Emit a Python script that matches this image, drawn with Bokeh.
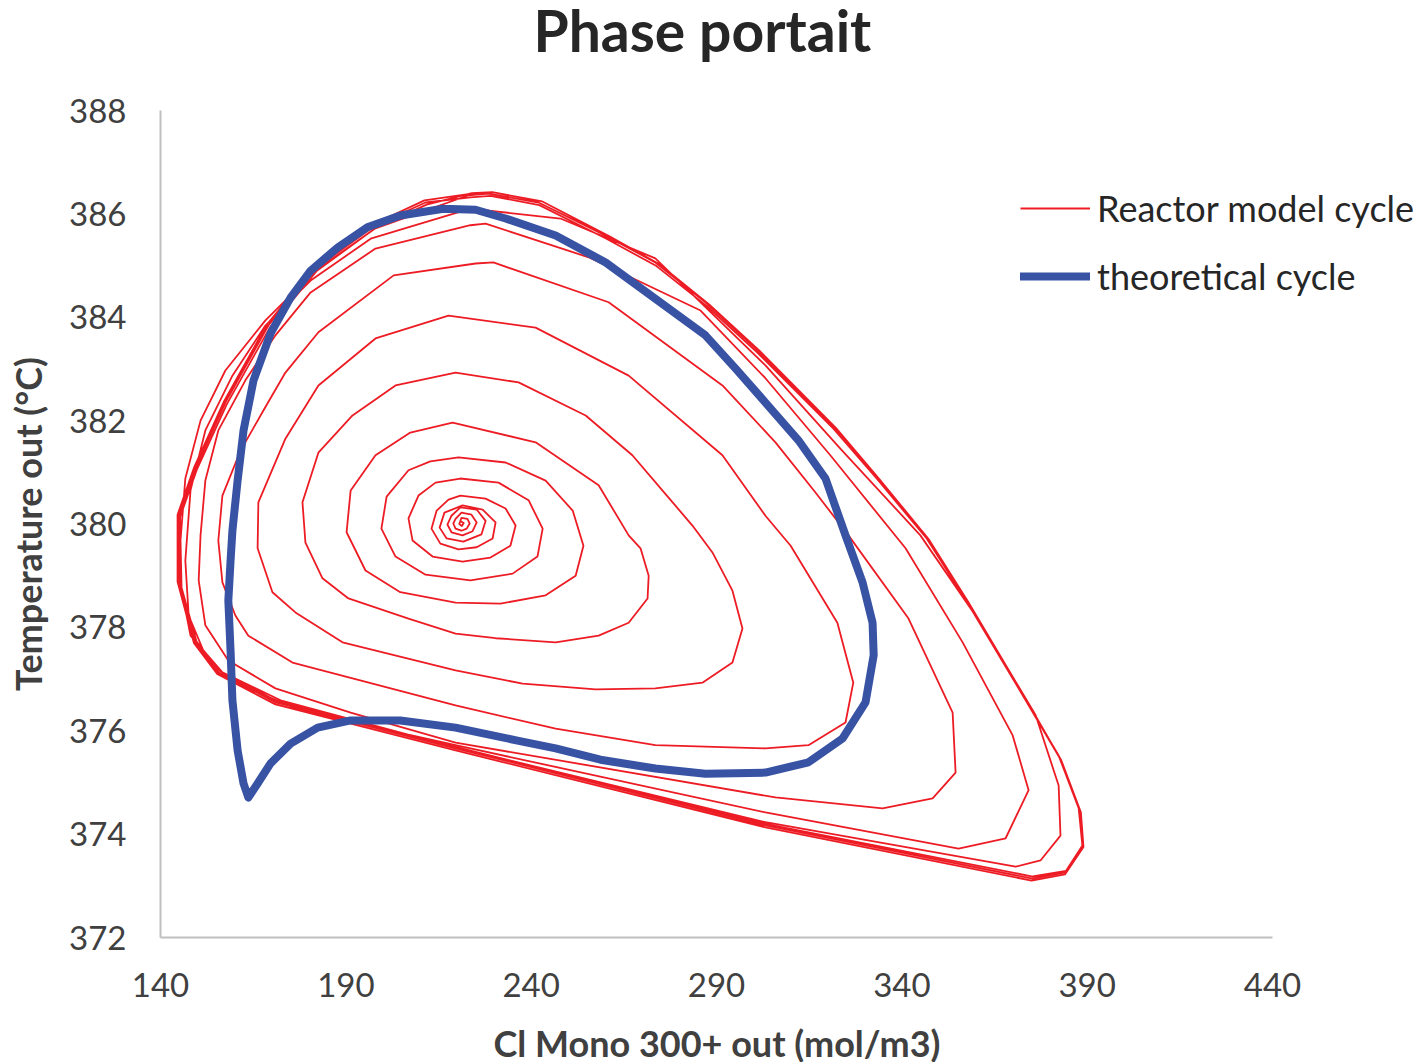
from bokeh.plotting import figure
from bokeh.models import Range1d, FixedTicker, Legend, LegendItem, Label
from bokeh.layouts import column
from bokeh.embed import file_html
from bokeh.resources import INLINE

# ---------------- data ----------------
title_text = "Phase portait"
x_title = "Cl Mono 300+ out (mol/m3)"
y_title = "Temperature out (°C)"
series_names = ["Reactor model cycle", "theoretical cycle"]
x_ticks = [140, 190, 240, 290, 340, 390, 440]
y_ticks = [372, 374, 376, 378, 380, 382, 384, 386, 388]

# Reactor model cycle: spiral from the fixed point outwards, one revolution per list
rev_00 = [(221.0, 380.05), (221.8, 380.02), (221.3, 379.96), (220.6, 380.00),
          (221.2, 380.12), (222.8, 380.10), (223.4, 380.01), (222.6, 379.91), (221.2, 379.87),
          (219.6, 379.91), (219.0, 380.01), (219.6, 380.10),
          (221.2, 380.22), (223.9, 380.18), (225.3, 380.03), (224.2, 379.86), (221.5, 379.78),
          (218.5, 379.84), (217.4, 379.99), (218.5, 380.16),
          (220.9, 380.32), (225.3, 380.28), (227.7, 380.06), (226.6, 379.80), (221.7, 379.66),
          (217.2, 379.72), (215.3, 379.93), (216.6, 380.22)]
rev_01 = [(221.5, 380.36), (226.9, 380.28), (230.4, 380.03), (229.6, 379.72), (225.3, 379.55),
          (220.4, 379.51), (215.5, 379.62), (213.1, 379.91), (214.5, 380.26), (217.7, 380.47)]
rev_02 = [(220.9, 380.55), (227.7, 380.49), (233.1, 380.30), (235.8, 379.97), (234.4, 379.58),
          (229.0, 379.35), (221.5, 379.27), (213.4, 379.37), (208.0, 379.68), (206.9, 380.11),
          (209.6, 380.55), (214.2, 380.80)]
rev_03 = [(220.9, 380.88), (231.2, 380.80), (239.3, 380.46), (243.1, 379.91), (241.7, 379.37),
          (235.0, 379.04), (223.6, 378.91), (211.5, 379.02), (203.4, 379.37), (199.6, 379.91),
          (201.0, 380.53), (206.9, 381.04), (212.8, 381.21)]
rev_04 = [(220.4, 381.29), (233.1, 381.19), (243.9, 380.84), (251.2, 380.26), (254.1, 379.58),
          (252.0, 379.00), (243.9, 378.62), (231.7, 378.46), (219.6, 378.48), (204.7, 378.68),
          (195.3, 379.10), (190.2, 379.84), (191.3, 380.65), (198.0, 381.33), (207.4, 381.77)]
rev_05 = [(218.8, 381.96), (241.2, 381.58), (258.2, 380.75), (266.3, 379.78), (269.5, 379.53),
          (271.7, 379.00), (271.4, 378.56), (266.3, 378.09), (258.2, 377.84), (246.6, 377.71),
          (230.4, 377.79), (219.6, 377.88), (206.9, 378.17), (190.7, 378.56), (183.7, 378.95),
          (179.1, 379.64), (178.3, 380.42), (182.6, 381.38), (191.8, 382.10), (203.4, 382.68)]
rev_06 = [(219.6, 382.93), (236.6, 382.74), (254.7, 382.10), (267.3, 381.33), (276.6, 380.55),
          (283.5, 379.97), (288.9, 379.45), (294.3, 378.71), (297.0, 377.98), (294.3, 377.32),
          (286.2, 376.93), (273.5, 376.82), (257.4, 376.80), (237.7, 376.91), (219.6, 377.17),
          (189.1, 377.71), (176.4, 378.29), (170.2, 378.68), (166.2, 379.53), (166.4, 380.42),
          (173.7, 381.65), (182.6, 382.68), (198.0, 383.59)]
rev_07 = [(217.7, 384.03), (241.2, 383.80), (266.3, 382.87), (291.6, 381.33), (303.2, 380.16),
          (310.0, 379.58), (322.6, 378.09), (326.9, 376.93), (324.8, 376.16), (314.8, 375.72),
          (303.2, 375.66), (273.5, 375.72), (246.6, 376.04), (219.6, 376.49), (175.6, 377.32),
          (163.7, 377.84), (160.2, 378.23), (156.7, 378.87), (155.6, 379.68), (156.7, 380.55),
          (161.6, 381.42), (167.8, 382.20), (173.7, 382.93), (182.6, 383.71), (202.9, 384.81)]
rev_08 = [(225.0, 385.04), (229.8, 385.06), (260.9, 384.29), (291.6, 382.68), (305.9, 381.58),
          (316.7, 380.61), (325.6, 379.78), (341.8, 378.17), (353.7, 376.35), (354.5, 375.19),
          (348.3, 374.69), (334.8, 374.50), (305.9, 374.71), (219.6, 375.77), (191.3, 376.35),
          (171.0, 376.82), (158.3, 377.36), (152.1, 378.04), (150.3, 378.91), (150.8, 379.78),
          (152.1, 380.84), (155.6, 381.81), (162.9, 382.78), (171.0, 383.65), (180.5, 384.48),
          (198.0, 385.33)]
rev_09 = [(223.6, 385.78), (227.7, 385.81), (255.5, 385.16), (285.7, 384.13), (303.2, 382.82),
          (320.7, 381.33), (341.0, 379.53), (356.4, 377.71), (369.9, 375.91), (374.2, 374.85),
          (368.0, 373.92), (355.3, 373.72), (303.2, 374.42), (219.6, 375.72), (177.8, 376.39),
          (158.9, 376.97), (152.1, 377.46), (147.6, 378.23), (146.7, 379.29), (148.1, 380.65),
          (152.1, 381.81), (159.4, 382.87), (168.3, 383.84), (180.5, 384.71), (196.7, 385.52)]
rev_10 = [(223.6, 386.10), (247.9, 385.91), (273.5, 385.14), (303.2, 383.07), (323.4, 381.46),
          (345.0, 379.78), (361.2, 378.09), (376.1, 376.30), (382.3, 374.94), (382.8, 373.97),
          (377.4, 373.49), (370.7, 373.37), (303.2, 374.23), (219.6, 375.68), (172.4, 376.59),
          (156.7, 377.13), (148.1, 377.84), (145.7, 378.71), (145.4, 379.68), (146.7, 380.88),
          (150.8, 382.00), (157.5, 382.97), (168.3, 383.94), (181.8, 384.90), (198.0, 385.72)]
rev_11 = [(223.1, 386.36), (228.5, 386.39), (242.0, 386.22), (260.1, 385.58), (273.5, 385.06),
          (287.0, 384.29), (300.5, 383.40), (321.3, 381.91), (332.9, 380.94), (346.4, 379.78),
          (357.2, 378.56), (370.7, 376.93), (382.3, 375.52), (387.7, 374.50), (388.7, 373.78),
          (384.1, 373.26), (375.2, 373.14), (303.2, 374.17), (219.6, 375.66), (171.0, 376.55),
          (155.6, 377.13), (149.4, 377.71), (144.9, 378.87), (144.9, 380.16), (149.4, 381.07),
          (157.5, 382.35), (169.1, 383.84), (181.8, 384.94), (198.0, 385.78), (211.5, 386.22)]
rev_12 = [(223.6, 386.32), (229.0, 386.35), (242.2, 386.17), (260.3, 385.52), (273.8, 384.99),
          (287.3, 384.22), (300.8, 383.33), (321.6, 381.84), (333.2, 380.88), (346.7, 379.72),
          (357.5, 378.50), (371.0, 376.88), (382.6, 375.47), (388.0, 374.47), (388.9, 373.80),
          (384.3, 373.29), (375.3, 373.18), (303.2, 374.20), (219.6, 375.69), (171.2, 376.58),
          (155.9, 377.16), (149.7, 377.73), (145.3, 378.87), (145.3, 380.14), (149.8, 381.05),
          (157.9, 382.32), (169.5, 383.80), (182.2, 384.90), (198.3, 385.74), (211.8, 386.18)]
rev_13 = [(224.0, 386.40), (229.5, 386.42), (243.0, 386.24), (261.0, 385.57), (274.5, 385.03),
          (288.0, 384.25), (301.5, 383.36), (322.2, 381.86), (333.8, 380.88), (347.2, 379.71),
          (358.0, 378.48), (371.5, 376.85), (383.0, 375.43), (388.3, 374.42), (389.0, 373.75),
          (384.0, 373.22), (375.0, 373.10), (303.2, 374.13), (219.6, 375.62), (171.0, 376.51),
          (155.3, 377.10), (149.0, 377.70), (144.6, 378.88), (144.6, 380.18), (149.1, 381.10),
          (157.2, 382.38), (168.8, 383.87), (181.5, 384.97), (197.7, 385.81), (211.2, 386.26),
          (223.0, 386.38)]

# theoretical cycle (closed)
theory_x = [216.3, 225.0, 233.1, 246.6, 260.1, 273.5, 287.0, 295.1, 303.2, 312.1, 319.4,
            324.8, 329.4, 332.1, 332.4, 330.2, 324.0, 314.8, 303.2, 287.0, 273.5, 258.7,
            246.6, 236.3, 219.6, 204.7, 191.3, 182.4, 175.1, 169.7, 166.2, 163.7, 162.4,
            160.8, 159.4, 158.9, 158.3, 158.9, 159.4, 160.8, 162.4, 165.1, 169.7, 175.1,
            180.5, 187.8, 195.8, 204.7, 216.3]
theory_y = [386.10, 386.08, 385.91, 385.58, 385.06, 384.36, 383.65, 383.01, 382.35, 381.62,
            380.88, 379.78, 378.87, 378.09, 377.46, 376.55, 375.85, 375.39, 375.19, 375.17,
            375.27, 375.44, 375.66, 375.81, 376.06, 376.20, 376.20, 376.06, 375.75, 375.37,
            374.98, 374.71, 374.98, 375.62, 376.59, 377.55, 378.52, 379.29, 379.87, 380.84,
            381.81, 382.78, 383.69, 384.38, 384.90, 385.35, 385.74, 385.97, 386.10]

revolutions = [rev_00, rev_01, rev_02, rev_03, rev_04, rev_05, rev_06, rev_07,
               rev_08, rev_09, rev_10, rev_11, rev_12, rev_13]
model_x = [pt[0] for rev in revolutions for pt in rev]
model_y = [pt[1] for rev in revolutions for pt in rev]

# ---------------- styling ----------------
FONT = "Lato"
RED = "#ED1C24"
BLUE = "#3953A4"
TXT = "#404040"
W = 1420
LEFT = 160   # width of the left border (y axis area), shared by all rows


def text_strip(height, text, left, anchor_from_top, size, color):
    """A thin blank figure (no title, no axes) that only carries one line of text.
    Its frame spans page-x LEFT..W and the strip's full height, so the label is
    placed in page pixels."""
    f = figure(width=W, height=height, title=None, output_backend="svg",
               toolbar_location=None,
               x_range=Range1d(LEFT, W), y_range=Range1d(height, 0),
               min_border_left=LEFT, min_border_right=0, min_border_top=0,
               min_border_bottom=0, x_axis_location=None, y_axis_location=None,
               background_fill_color="white", border_fill_color="white")
    f.outline_line_color = None
    f.grid.visible = False
    f.add_layout(Label(x=left, y=anchor_from_top, text=text, text_font=FONT,
                       text_font_size=size, text_font_style="bold", text_color=color,
                       text_baseline="alphabetic", text_align="left"))
    return f


top = text_strip(90, title_text, 533, 29, "57px", "#262626")
bottom = text_strip(40, x_title, 493, 20, "36px", TXT)

# main chart: frame runs on to the right page edge (room for the legend); x axis stops at 440
p = figure(width=W, height=932, title=None, output_backend="svg", toolbar_location=None,
           x_range=Range1d(140, 479.92), y_range=Range1d(372, 388),
           min_border_left=LEFT, min_border_right=0, min_border_top=20,
           min_border_bottom=85, background_fill_color="white",
           border_fill_color="white")
p.outline_line_color = None
p.grid.visible = False

r_model = p.line(model_x, model_y, line_color=RED, line_width=1.8, line_join="round")
r_theory = p.line(theory_x, theory_y, line_color=BLUE, line_width=8, line_join="round",
                  line_cap="round")

for ax in (p.xaxis[0], p.yaxis[0]):
    ax.axis_line_color = "#BFBFBF"
    ax.axis_line_width = 2
    ax.major_tick_out = 0
    ax.major_tick_in = 0
    ax.minor_tick_out = 0
    ax.minor_tick_in = 0
    ax.major_label_text_font = FONT
    ax.major_label_text_font_size = "33px"
    ax.major_label_text_color = TXT
    ax.axis_label_text_font = FONT
    ax.axis_label_text_font_size = "36px"
    ax.axis_label_text_font_style = "bold"
    ax.axis_label_text_color = TXT

p.xaxis.ticker = FixedTicker(ticks=x_ticks)
p.xaxis.bounds = (140, 440)
p.xaxis.major_label_standoff = 35

p.yaxis.ticker = FixedTicker(ticks=y_ticks)
p.yaxis.axis_label = y_title
p.yaxis.major_label_standoff = 34
p.yaxis.axis_label_standoff = 16

legend = Legend(items=[LegendItem(label=series_names[0], renderers=[r_model]),
                       LegendItem(label=series_names[1], renderers=[r_theory])],
                location=(860, 639))
legend.border_line_color = None
legend.background_fill_alpha = 0
legend.padding = 0
legend.margin = 0
legend.spacing = 24
legend.glyph_width = 70
legend.glyph_height = 40
legend.label_height = 40
legend.label_standoff = 7
legend.label_text_font = FONT
legend.label_text_font_size = "36px"
legend.label_text_color = "#262626"
p.add_layout(legend)

page = column(top, p, bottom, spacing=0)
open("out.html", "w").write(file_html(page, INLINE))
